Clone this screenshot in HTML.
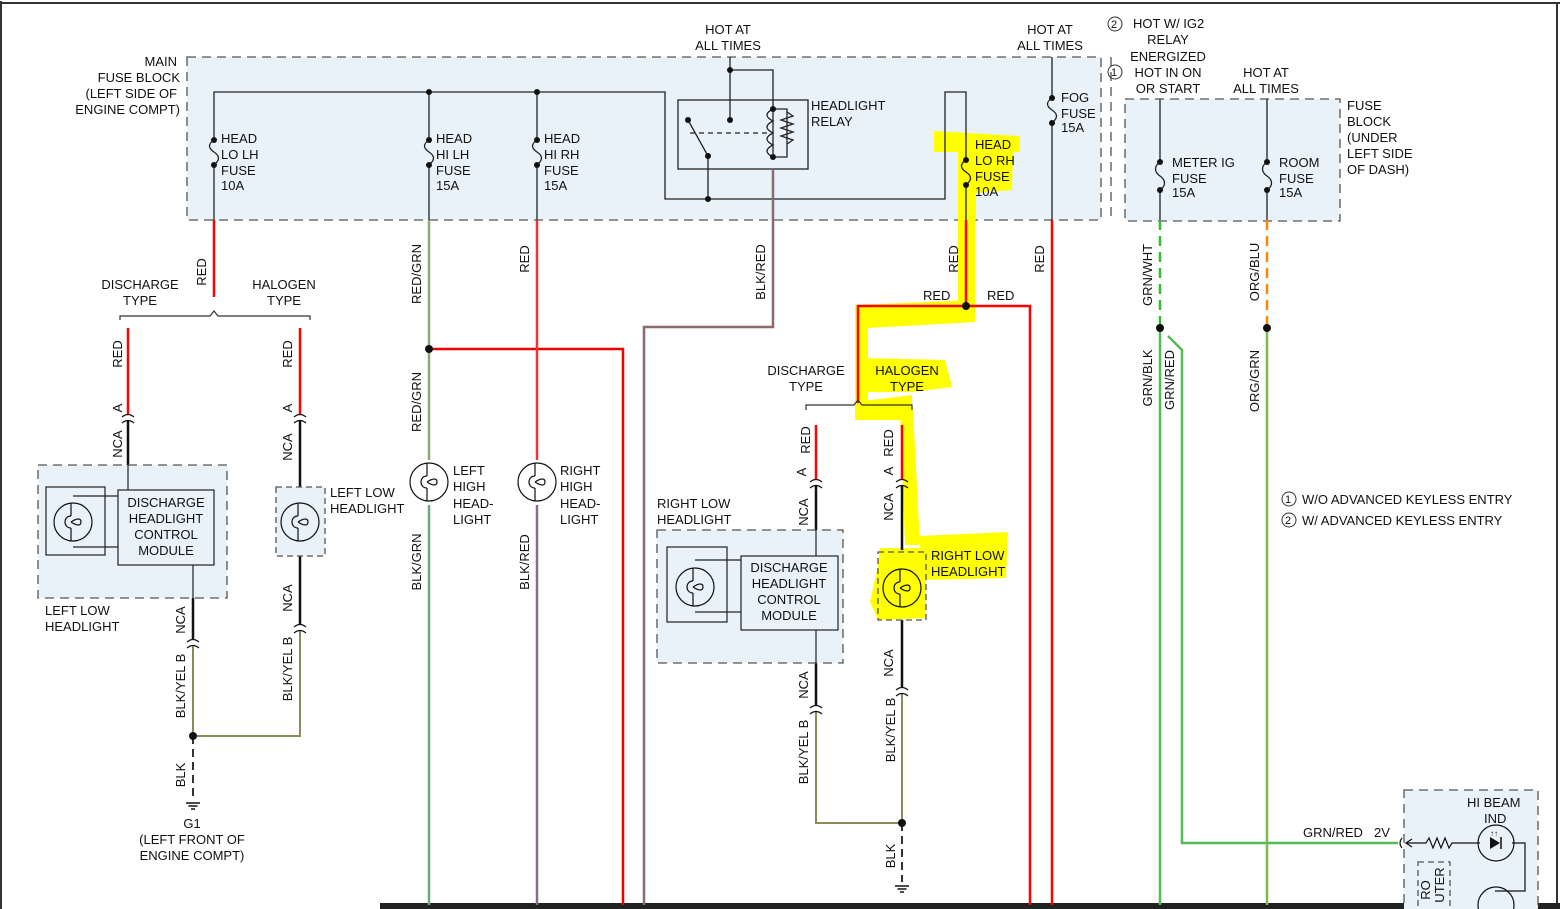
<!DOCTYPE html>
<html><head><meta charset="utf-8"><style>
html,body{margin:0;padding:0;background:#fff;}
svg{display:block;}
text{font-family:"Liberation Sans",sans-serif;font-size:13px;fill:#111;}
</style></head><body>
<svg width="1560" height="909" viewBox="0 0 1560 909" xmlns="http://www.w3.org/2000/svg">
<defs>
<g id="lamp"><circle r="19" fill="none" stroke="#111" stroke-width="1.2"/><path d="M-2,-19 V-6 M-2,6 V19 M-2,-6 C-10,-6 -10,6 -2,6 M-2,0 C4,-4 8,-4 8,0 C8,4 4,4 -2,0" fill="none" stroke="#111" stroke-width="1.2"/></g>
<g id="conn"><path d="M-6,-1 Q0,-6 6,-1 M-6,5 Q0,0 6,5" fill="none" stroke="#111" stroke-width="1.2"/></g>
<g id="gnd"><path d="M-7,0 H7 M-4.5,3 H4.5 M-2,6 H2" stroke="#111" stroke-width="1.5"/></g>
</defs>
<rect width="1560" height="909" fill="#fff"/>
<path d="M1,1 V909 M0,3 H1560 M1557,3 V909" stroke="#333" stroke-width="2" fill="none"/>
<rect x="380" y="903" width="1180" height="6" fill="#222"/>

<rect x="187" y="57" width="914" height="163" fill="#e8f2f8" stroke="#555" stroke-dasharray="9,6" stroke-width="1.3"/>
<rect x="1125" y="99" width="215" height="122" fill="#e8f2f8" stroke="#555" stroke-dasharray="9,6" stroke-width="1.3"/>
<path d="M1111,57 V220" stroke="#555" stroke-dasharray="9,6" stroke-width="1.3"/>

<g fill="#ffff00">
<path d="M934,131 L1020,136 L1020,152 L934,152 Z"/>
<path d="M958,150 L1013,150 L1012,190 L976,193 L976,220 L958,220 Z"/>
<rect x="958" y="218" width="17" height="95"/>
<path d="M855,305 L975,300 L975,322 L868,328 L868,420 L855,420 Z"/>
<path d="M862,358 L945,360 L952,387 L912,392 L860,392 Z"/>
<path d="M855,402 L912,395 L912,420 L860,420 Z"/>
<path d="M900,410 L913,410 L920,545 L905,545 Z"/>
<path d="M920,536 L1008,532 L1006,578 L920,580 Z"/>
<path d="M880,548 L926,548 L926,618 L878,620 L870,602 L878,565 Z"/>
</g>

<g stroke="#222" stroke-width="1.3" fill="none">
<path d="M214,220 V165 M214,140 V92 H665 V199 H945 V92 H966 V160 M966,185 V220"/>
<path d="M429,92 V140 M429,165 V220 M537,92 V140 M537,165 V220"/>
<path d="M214,140 c-6,4 -6,8 0,12 c6,4 6,8 0,13"/>
<path d="M429,140 c-6,4 -6,8 0,12 c6,4 6,8 0,13"/>
<path d="M537,140 c-6,4 -6,8 0,12 c6,4 6,8 0,13"/>
<path d="M966,160 c-6,4 -6,8 0,12 c6,4 6,8 0,13"/>
<rect x="678" y="100" width="130" height="69"/>
<path d="M730,57 V120 M730,70 H773 V157 M773,109 H787 V157 H773"/>
<path d="M773,109 c-8,4 -8,8 0,12 c-8,4 -8,8 0,12 c-8,4 -8,8 0,12 c-8,4 -8,8 0,12"/>
<path d="M787,112 l6,4 -12,4 12,4 -12,4 12,4 -12,4 12,4 -6,4"/>
<path d="M690,133 H770" stroke-dasharray="5,4"/>
<path d="M708,156 L688,120 M708,156 V199"/>
<path d="M1052,57 V98 M1052,123 V220"/>
<path d="M1052,98 c-6,4 -6,8 0,12 c6,4 6,8 0,13"/>
<path d="M1160,99 V162 M1267,99 V162"/>
<path d="M1160,162 c-6,4 -6,10 0,14 c6,4 6,10 0,14 M1160,190 V221"/>
<path d="M1267,162 c-6,4 -6,10 0,14 c6,4 6,10 0,14 M1267,190 V221"/>
</g>
<g fill="#111">
<circle cx="214" cy="140" r="3"/><circle cx="214" cy="165" r="3"/>
<circle cx="429" cy="92" r="3"/><circle cx="429" cy="140" r="3"/><circle cx="429" cy="165" r="3"/>
<circle cx="537" cy="92" r="3"/><circle cx="537" cy="140" r="3"/><circle cx="537" cy="165" r="3"/>
<circle cx="966" cy="160" r="3"/><circle cx="966" cy="185" r="3"/>
<circle cx="730" cy="70" r="3"/><circle cx="730" cy="120" r="3"/><circle cx="773" cy="109" r="3"/><circle cx="773" cy="157" r="3"/>
<circle cx="688" cy="120" r="3"/><circle cx="708" cy="156" r="3"/><circle cx="708" cy="199" r="3"/>
<circle cx="1052" cy="98" r="3"/><circle cx="1052" cy="123" r="3"/>
<circle cx="1160" cy="162" r="3"/><circle cx="1160" cy="190" r="3"/>
<circle cx="1267" cy="162" r="3"/><circle cx="1267" cy="190" r="3"/>
</g>

<g fill="none" stroke-width="2.5">
<path d="M214,220 V297" stroke="#f00"/>
<path d="M128,328 V415 M300,328 V415" stroke="#f00"/>
<path d="M429,220 V460" stroke="#8ca878"/>
<path d="M429,349 H623 V905" stroke="#e00"/>
<path d="M537,220 V460" stroke="#e33"/>
<path d="M429,505 V905" stroke="#6a8"/>
<path d="M537,505 V905" stroke="#8a6a8a"/>
<path d="M773,169 V327 H644 V905" stroke="#8a6a6a"/>
<path d="M966,220 V306 H858 V403 M966,306 H1030 V905" stroke="#f00"/>
<path d="M816,425 V480 M902,425 V480" stroke="#f00"/>
<path d="M1052,220 V905" stroke="#f00"/>
<path d="M1160,220 V328" stroke="#3b3" stroke-dasharray="10,6"/>
<path d="M1267,220 V328" stroke="#f80" stroke-dasharray="10,6"/>
<path d="M1160,328 V905" stroke="#5b5"/>
<path d="M1168,336 L1182,350 V843 H1398" stroke="#5b5"/>
<path d="M1267,328 V905" stroke="#7b5"/>
</g>
<g fill="none" stroke="#111" stroke-width="2.5">
<path d="M128,420 V465 M300,420 V487 M300,556 V625 M193,598 V640"/>
<path d="M816,485 V530 M902,485 V550 M902,620 V688 M816,663 V706"/>
</g>
<g fill="none" stroke-width="2">
<path d="M193,645 V736 H300 V630" stroke="#8a8a5a"/>
<path d="M193,736 V800" stroke="#333" stroke-dasharray="8,5"/>
<path d="M816,711 V823 H902 V693" stroke="#8a8a5a"/>
<path d="M902,823 V882" stroke="#333" stroke-dasharray="8,5"/>
</g>
<g fill="#111">
<circle cx="966" cy="306" r="4"/><circle cx="429" cy="349" r="4"/>
<circle cx="1160" cy="328" r="4"/><circle cx="1267" cy="328" r="4"/>
<circle cx="193" cy="736" r="4"/><circle cx="902" cy="823" r="4"/>
</g>
<use href="#gnd" x="193" y="803"/><use href="#gnd" x="902" y="886"/>
<path d="M120,320 V316 H210 L214,311 L218,316 H310 V320" fill="none" stroke="#333" stroke-width="1.2"/>
<path d="M806,410 V405 H854 L858,400 L862,405 H912 V410" fill="none" stroke="#333" stroke-width="1.2"/>
<use href="#conn" x="128" y="418"/><use href="#conn" x="300" y="418"/>
<use href="#conn" x="193" y="643"/><use href="#conn" x="300" y="628"/>
<use href="#conn" x="816" y="483"/><use href="#conn" x="902" y="483"/>
<use href="#conn" x="816" y="709"/><use href="#conn" x="902" y="691"/>

<rect x="38" y="465" width="189" height="133" fill="#e8f2f8" stroke="#555" stroke-dasharray="9,6" stroke-width="1.3"/>
<rect x="46" y="487" width="59" height="68" fill="none" stroke="#222" stroke-width="1.2"/>
<rect x="118" y="490" width="96" height="75" fill="#e8f2f8" stroke="#222" stroke-width="1.2"/>
<path d="M73,496 H118 M73,547 H118 M128,465 V490 M193,565 V598" stroke="#222" stroke-width="1.2" fill="none"/>
<use href="#lamp" x="73" y="522"/>
<rect x="276" y="487" width="49" height="69" fill="#e8f2f8" stroke="#555" stroke-dasharray="6,4" stroke-width="1.3"/>
<use href="#lamp" x="300" y="522"/>
<use href="#lamp" x="429" y="482"/><use href="#lamp" x="537" y="482"/>

<rect x="657" y="530" width="186" height="133" fill="#e8f2f8" stroke="#555" stroke-dasharray="9,6" stroke-width="1.3"/>
<rect x="667" y="547" width="60" height="75" fill="none" stroke="#222" stroke-width="1.2"/>
<rect x="741" y="556" width="97" height="74" fill="#e8f2f8" stroke="#222" stroke-width="1.2"/>
<path d="M695,560 H741 M695,612 H741 M816,530 V556 M816,630 V663" stroke="#222" stroke-width="1.2" fill="none"/>
<use href="#lamp" x="695" y="587"/>
<rect x="878" y="552" width="48" height="68" fill="none" stroke="#555" stroke-dasharray="6,4" stroke-width="1.3"/>
<use href="#lamp" x="902" y="588"/>

<rect x="1404" y="790" width="134" height="125" fill="#e8f2f8" stroke="#555" stroke-dasharray="9,6" stroke-width="1.3"/>
<rect x="1418" y="862" width="32" height="50" fill="none" stroke="#555" stroke-dasharray="6,4" stroke-width="1.3"/>
<g stroke="#111" stroke-width="1.2" fill="none">
<path d="M1402,838 Q1398,843 1402,848"/>
<path d="M1412,839 L1406,843 L1412,847 M1406,843 H1426 l3,-5 4,10 4,-10 4,10 4,-10 4,10 3,-5 H1480 M1512,843 H1525 V891 H1495"/>
<circle cx="1496" cy="843" r="18"/>
<circle cx="1496" cy="905" r="18"/>
</g>
<path d="M1490,837 V849 L1500,843 Z" fill="#111"/><path d="M1501,837 V849" stroke="#111" stroke-width="1.5"/>
<text x="1490" y="836" style="font-size:8px">↑↑</text>

<g>
<text x="177" y="66" text-anchor="end">MAIN</text>
<text x="180" y="82" text-anchor="end">FUSE BLOCK</text>
<text x="177" y="98" text-anchor="end">(LEFT SIDE OF</text>
<text x="180" y="114" text-anchor="end">ENGINE COMPT)</text>
<text x="221" y="143">HEAD</text><text x="221" y="159">LO LH</text><text x="221" y="175">FUSE</text><text x="221" y="190">10A</text>
<text x="436" y="143">HEAD</text><text x="436" y="159">HI LH</text><text x="436" y="175">FUSE</text><text x="436" y="190">15A</text>
<text x="544" y="143">HEAD</text><text x="544" y="159">HI RH</text><text x="544" y="175">FUSE</text><text x="544" y="190">15A</text>
<text x="728" y="34" text-anchor="middle">HOT AT</text><text x="728" y="50" text-anchor="middle">ALL TIMES</text>
<text x="1050" y="34" text-anchor="middle">HOT AT</text><text x="1050" y="50" text-anchor="middle">ALL TIMES</text>
<text x="811" y="110">HEADLIGHT</text><text x="811" y="126">RELAY</text>
<text x="975" y="149">HEAD</text><text x="975" y="165">LO RH</text><text x="975" y="181">FUSE</text><text x="975" y="196">10A</text>
<text x="1061" y="102">FOG</text><text x="1061" y="118">FUSE</text><text x="1061" y="132">15A</text>
<circle cx="1115" cy="24" r="7" fill="none" stroke="#333"/><text x="1111" y="28" style="font-size:11px">2</text>
<text x="1133" y="28">HOT W/ IG2</text><text x="1168" y="44" text-anchor="middle">RELAY</text><text x="1168" y="61" text-anchor="middle">ENERGIZED</text>
<circle cx="1115" cy="72" r="7" fill="none" stroke="#333"/><text x="1111" y="76" style="font-size:11px">1</text>
<text x="1168" y="77" text-anchor="middle">HOT IN ON</text><text x="1168" y="93" text-anchor="middle">OR START</text>
<text x="1266" y="77" text-anchor="middle">HOT AT</text><text x="1266" y="93" text-anchor="middle">ALL TIMES</text>
<text x="1347" y="110">FUSE</text><text x="1347" y="126">BLOCK</text><text x="1347" y="142">(UNDER</text><text x="1347" y="158">LEFT SIDE</text><text x="1347" y="174">OF DASH)</text>
<text x="1172" y="167">METER IG</text><text x="1172" y="183">FUSE</text><text x="1172" y="197">15A</text>
<text x="1279" y="167">ROOM</text><text x="1279" y="183">FUSE</text><text x="1279" y="197">15A</text>
<text x="140" y="289" text-anchor="middle">DISCHARGE</text><text x="140" y="305" text-anchor="middle">TYPE</text>
<text x="284" y="289" text-anchor="middle">HALOGEN</text><text x="284" y="305" text-anchor="middle">TYPE</text>
<text x="806" y="375" text-anchor="middle">DISCHARGE</text><text x="806" y="391" text-anchor="middle">TYPE</text>
<text x="907" y="375" text-anchor="middle">HALOGEN</text><text x="907" y="391" text-anchor="middle">TYPE</text>
<text x="923" y="300">RED</text><text x="987" y="300">RED</text>
<text x="166" y="507" text-anchor="middle">DISCHARGE</text><text x="166" y="523" text-anchor="middle">HEADLIGHT</text><text x="166" y="539" text-anchor="middle">CONTROL</text><text x="166" y="555" text-anchor="middle">MODULE</text>
<text x="45" y="615">LEFT LOW</text><text x="45" y="631">HEADLIGHT</text>
<text x="330" y="497">LEFT LOW</text><text x="330" y="513">HEADLIGHT</text>
<text x="453" y="475">LEFT</text><text x="453" y="491">HIGH</text><text x="453" y="508">HEAD-</text><text x="453" y="524">LIGHT</text>
<text x="560" y="475">RIGHT</text><text x="560" y="491">HIGH</text><text x="560" y="508">HEAD-</text><text x="560" y="524">LIGHT</text>
<text x="657" y="508">RIGHT LOW</text><text x="657" y="524">HEADLIGHT</text>
<text x="789" y="572" text-anchor="middle">DISCHARGE</text><text x="789" y="588" text-anchor="middle">HEADLIGHT</text><text x="789" y="604" text-anchor="middle">CONTROL</text><text x="789" y="620" text-anchor="middle">MODULE</text>
<text x="931" y="560">RIGHT LOW</text><text x="931" y="576">HEADLIGHT</text>
<text x="192" y="828" text-anchor="middle">G1</text><text x="192" y="844" text-anchor="middle">(LEFT FRONT OF</text><text x="192" y="860" text-anchor="middle">ENGINE COMPT)</text>
<circle cx="1289" cy="499" r="7" fill="none" stroke="#333"/><text x="1285" y="503" style="font-size:11px">1</text>
<text x="1302" y="504">W/O ADVANCED KEYLESS ENTRY</text>
<circle cx="1289" cy="520" r="7" fill="none" stroke="#333"/><text x="1285" y="524" style="font-size:11px">2</text>
<text x="1302" y="525">W/ ADVANCED KEYLESS ENTRY</text>
<text x="1303" y="837">GRN/RED</text><text x="1374" y="837">2V</text>
<text x="1467" y="807">HI BEAM</text><text x="1484" y="823">IND</text>
</g>
<g>
<text transform="translate(206,272) rotate(-90)" text-anchor="middle">RED</text>
<text transform="translate(421,274) rotate(-90)" text-anchor="middle">RED/GRN</text>
<text transform="translate(529,259) rotate(-90)" text-anchor="middle">RED</text>
<text transform="translate(765,272) rotate(-90)" text-anchor="middle">BLK/RED</text>
<text transform="translate(958,259) rotate(-90)" text-anchor="middle">RED</text>
<text transform="translate(1044,259) rotate(-90)" text-anchor="middle">RED</text>
<text transform="translate(1152,275) rotate(-90)" text-anchor="middle">GRN/WHT</text>
<text transform="translate(1259,272) rotate(-90)" text-anchor="middle">ORG/BLU</text>
<text transform="translate(1152,378) rotate(-90)" text-anchor="middle">GRN/BLK</text>
<text transform="translate(1174,380) rotate(-90)" text-anchor="middle">GRN/RED</text>
<text transform="translate(1259,381) rotate(-90)" text-anchor="middle">ORG/GRN</text>
<text transform="translate(122,354) rotate(-90)" text-anchor="middle">RED</text>
<text transform="translate(292,354) rotate(-90)" text-anchor="middle">RED</text>
<text transform="translate(122,408) rotate(-90)" text-anchor="middle">A</text>
<text transform="translate(292,408) rotate(-90)" text-anchor="middle">A</text>
<text transform="translate(122,444) rotate(-90)" text-anchor="middle">NCA</text>
<text transform="translate(292,447) rotate(-90)" text-anchor="middle">NCA</text>
<text transform="translate(185,620) rotate(-90)" text-anchor="middle">NCA</text>
<text transform="translate(292,598) rotate(-90)" text-anchor="middle">NCA</text>
<text transform="translate(185,686) rotate(-90)" text-anchor="middle">BLK/YEL B</text>
<text transform="translate(292,669) rotate(-90)" text-anchor="middle">BLK/YEL B</text>
<text transform="translate(185,775) rotate(-90)" text-anchor="middle">BLK</text>
<text transform="translate(421,402) rotate(-90)" text-anchor="middle">RED/GRN</text>
<text transform="translate(421,562) rotate(-90)" text-anchor="middle">BLK/GRN</text>
<text transform="translate(529,562) rotate(-90)" text-anchor="middle">BLK/RED</text>
<text transform="translate(810,440) rotate(-90)" text-anchor="middle">RED</text>
<text transform="translate(893,443) rotate(-90)" text-anchor="middle">RED</text>
<text transform="translate(806,472) rotate(-90)" text-anchor="middle">A</text>
<text transform="translate(893,471) rotate(-90)" text-anchor="middle">A</text>
<text transform="translate(808,512) rotate(-90)" text-anchor="middle">NCA</text>
<text transform="translate(893,507) rotate(-90)" text-anchor="middle">NCA</text>
<text transform="translate(808,685) rotate(-90)" text-anchor="middle">NCA</text>
<text transform="translate(893,663) rotate(-90)" text-anchor="middle">NCA</text>
<text transform="translate(808,752) rotate(-90)" text-anchor="middle">BLK/YEL B</text>
<text transform="translate(895,730) rotate(-90)" text-anchor="middle">BLK/YEL B</text>
<text transform="translate(895,856) rotate(-90)" text-anchor="middle">BLK</text>
<text transform="translate(1430,890) rotate(-90)" text-anchor="middle">RO</text>
<text transform="translate(1444,885) rotate(-90)" text-anchor="middle">UTER</text>
</g>
</svg>
</body></html>
